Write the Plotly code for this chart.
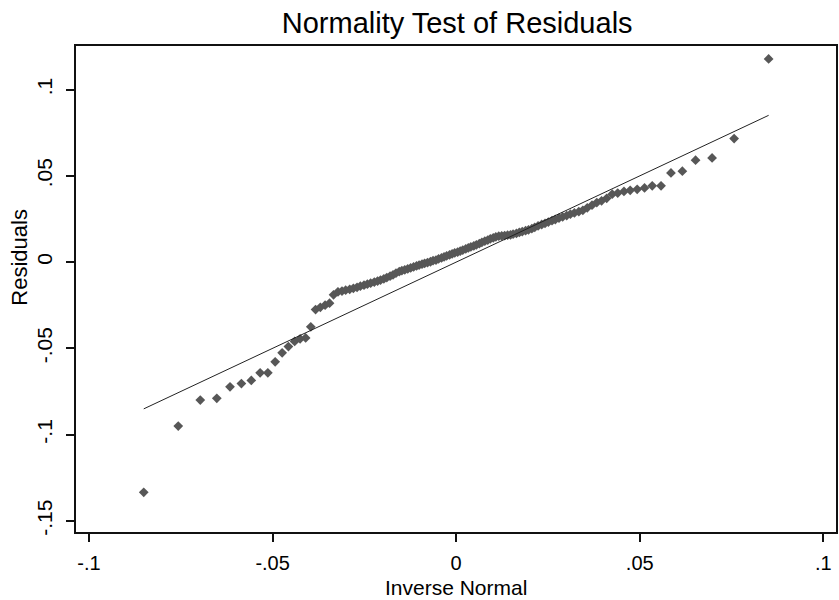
import plotly.graph_objects as go

# Inverse-normal quantiles (x) and sorted residuals (y)
inv_normal_neg = [-0.0851, -0.0757, -0.0697, -0.0652, -0.0616, -0.0585, -0.0558, -0.0534, -0.0513, -0.0493,
                  -0.0474, -0.0457, -0.0440, -0.0425, -0.0410, -0.0396, -0.0383, -0.0370, -0.0357, -0.0345,
                  -0.0334, -0.0322, -0.0311, -0.0301, -0.0290, -0.0280, -0.0270, -0.0261, -0.0251, -0.0242,
                  -0.0233, -0.0223, -0.0214, -0.0206, -0.0197, -0.0189, -0.0180, -0.0172, -0.0164, -0.0155,
                  -0.0148, -0.0140, -0.0132, -0.0124, -0.0116, -0.0108, -0.0101, -0.0093, -0.0086, -0.0078,
                  -0.0070, -0.0063, -0.0055, -0.0048, -0.0040, -0.0033, -0.0026, -0.0018, -0.0011, -0.0004]
resid_low = [-0.1335, -0.0951, -0.0800, -0.0790, -0.0723, -0.0704, -0.0686, -0.0642, -0.0642, -0.0578,
             -0.0526, -0.0490, -0.0460, -0.0445, -0.0440, -0.0375, -0.0275, -0.0262, -0.0250, -0.0238,
             -0.0190, -0.0172, -0.0168, -0.0163, -0.0158, -0.0152, -0.0146, -0.0140, -0.0134, -0.0128,
             -0.0122, -0.0116, -0.0110, -0.0104, -0.0097, -0.0090, -0.0082, -0.0074, -0.0064, -0.0055,
             -0.0050, -0.0045, -0.0040, -0.0034, -0.0028, -0.0022, -0.0017, -0.0012, -0.0008, -0.0003,
             0.0002, 0.0008, 0.0012, 0.0018, 0.0024, 0.0030, 0.0036, 0.0042, 0.0048, 0.0053]

inv_normal_pos = [0.0004, 0.0011, 0.0018, 0.0026, 0.0033, 0.0040, 0.0048, 0.0055, 0.0063, 0.0070,
                  0.0078, 0.0086, 0.0093, 0.0101, 0.0108, 0.0116, 0.0124, 0.0132, 0.0140, 0.0148,
                  0.0155, 0.0164, 0.0172, 0.0180, 0.0189, 0.0197, 0.0206, 0.0214, 0.0223, 0.0233,
                  0.0242, 0.0251, 0.0261, 0.0270, 0.0280, 0.0290, 0.0301, 0.0311, 0.0322, 0.0334,
                  0.0345, 0.0357, 0.0370, 0.0383, 0.0396, 0.0410, 0.0425, 0.0440, 0.0457, 0.0474,
                  0.0493, 0.0513, 0.0534, 0.0558, 0.0585, 0.0616, 0.0652, 0.0697, 0.0757, 0.0851]
resid_high = [0.0058, 0.0064, 0.0070, 0.0076, 0.0082, 0.0088, 0.0094, 0.0100, 0.0107, 0.0114,
              0.0121, 0.0128, 0.0135, 0.0141, 0.0146, 0.0150, 0.0152, 0.0154, 0.0156, 0.0158,
              0.0162, 0.0166, 0.0172, 0.0177, 0.0182, 0.0187, 0.0194, 0.0202, 0.0210, 0.0218,
              0.0225, 0.0232, 0.0240, 0.0247, 0.0255, 0.0262, 0.0270, 0.0278, 0.0285, 0.0292,
              0.0300, 0.0315, 0.0330, 0.0345, 0.0355, 0.0370, 0.0394, 0.0400, 0.0410, 0.0416,
              0.0422, 0.0430, 0.0442, 0.0442, 0.0517, 0.0527, 0.0591, 0.0604, 0.0716, 0.1178]

ref_x = [-0.0851, 0.0851]
ref_y = [-0.0851, 0.0851]

x_ticks = [-0.1, -0.05, 0, 0.05, 0.1]
x_labels = ["-.1", "-.05", "0", ".05", ".1"]
y_ticks = [-0.15, -0.1, -0.05, 0, 0.05, 0.1]
y_labels = ["-.15", "-.1", "-.05", "0", ".05", ".1"]

FONT = "Liberation Sans, Arial, sans-serif"

fig = go.Figure()
fig.add_trace(go.Scatter(
    x=inv_normal_neg + inv_normal_pos, y=resid_low + resid_high,
    mode="markers",
    marker=dict(symbol="diamond", size=7.5, color="#575757", line=dict(width=0)),
    showlegend=False, hoverinfo="skip"))
fig.add_trace(go.Scatter(
    x=ref_x, y=ref_y, mode="lines",
    line=dict(color="#222222", width=1),
    showlegend=False, hoverinfo="skip"))

fig.update_layout(
    width=839, height=600,
    margin=dict(l=76, r=1, t=46, b=68),
    paper_bgcolor="white", plot_bgcolor="white",
    font=dict(family=FONT, color="#000000"),
    title=dict(text="Normality Test of Residuals", x=0.5449, xanchor="center",
               y=0.962, yanchor="middle", font=dict(size=29, family=FONT, color="#000000")),
    xaxis=dict(range=[-0.10355, 0.10345], tickvals=x_ticks, ticktext=x_labels,
               showgrid=False, zeroline=False, showline=True, mirror=True,
               linecolor="#111111", linewidth=2, ticks="outside", ticklen=8,
               tickwidth=1.5, tickcolor="#111111", ticklabelstandoff=4,
               tickfont=dict(size=20, family=FONT, color="#000000")),
    yaxis=dict(range=[-0.1565, 0.1253], tickvals=y_ticks, ticktext=y_labels,
               showgrid=False, zeroline=False, showline=True, mirror=True,
               linecolor="#111111", linewidth=2, ticks="outside", ticklen=8,
               tickwidth=1.5, tickcolor="#111111", tickangle=-90, ticklabelstandoff=6,
               tickfont=dict(size=21, family=FONT, color="#000000")),
    annotations=[
        dict(text="Inverse Normal", xref="paper", yref="paper", x=0.5, y=-0.1152,
             xanchor="center", yanchor="middle", showarrow=False,
             font=dict(size=21, family=FONT, color="#000000")),
        dict(text="Residuals", xref="paper", yref="paper", x=-0.074, y=0.566,
             xanchor="center", yanchor="middle", showarrow=False, textangle=-90,
             font=dict(size=22, family=FONT, color="#000000")),
    ],
)

fig.write_html("out.html")
